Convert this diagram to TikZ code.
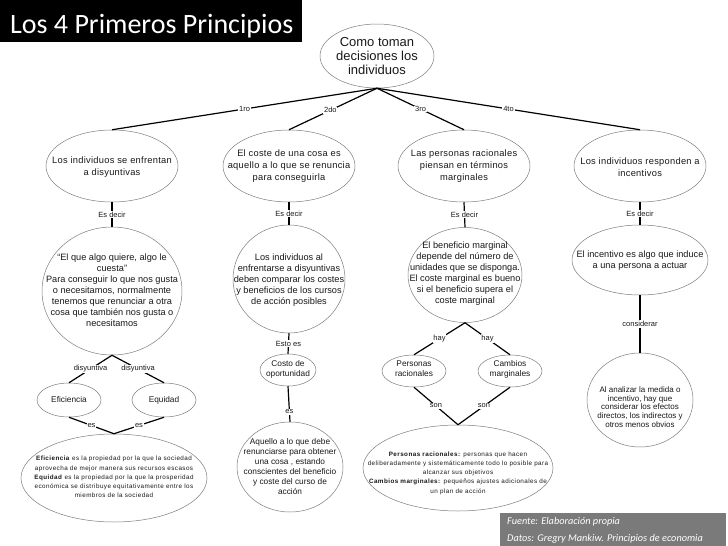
\documentclass[tikz,border=0pt]{standalone}
\usepackage{fontspec}
\setmainfont{Liberation Sans}
\newfontfamily\spaceA[LetterSpace=3]{Liberation Sans}
\newfontfamily\spaceC[LetterSpace=7]{Liberation Sans}
\newfontfamily\carl{Carlito}
\usetikzlibrary{shapes.geometric}
\definecolor{ellgray}{RGB}{125,125,125}
\definecolor{boxgray}{RGB}{122,122,122}
\definecolor{txtcol}{RGB}{25,25,25}
\tikzset{
  ell/.style={ellipse, draw=ellgray, line width=0.5pt, inner sep=0pt},
  esz/.style 2 args={minimum width=#1pt, minimum height=#2pt},
  txt/.style={align=center, inner sep=0pt, text=txtcol},
  fRoot/.style={font=\fontsize{13}{14}\selectfont},
  fA/.style={font=\spaceA\fontsize{9.3}{12}\selectfont},
  fB/.style={font=\fontsize{9.2}{11}\selectfont},
  fS/.style={font=\fontsize{8.3}{10}\selectfont},
  fD/.style={font=\fontsize{8}{8.7}\selectfont},
  fC/.style={font=\spaceC\fontsize{6.3}{9.2}\selectfont},
  conn/.style={line width=1.2pt, black},
  lbl/.style={fill=white, inner sep=0.8pt, text=txtcol, font=\fontsize{7.5}{8}\selectfont},
}
\begin{document}
\begin{tikzpicture}[x=1pt, y=-1pt]
\useasboundingbox (0,0) rectangle (728,546);
\fill[white] (0,0) rectangle (728,546);

% title
\fill[black] (0,0) rectangle (302,42);
\node[anchor=base west, inner sep=0pt, text=white, font=\carl\fontsize{28}{30}\selectfont] (title) at (10,33) {Los 4 Primeros Principios};

% root
\node[ell, esz={114}{64}] (root) at (377,56) {};
\node[txt, fRoot] (roott) at (377,56) {Como toman\\decisiones los\\individuos};

% level 1
\node[ell, esz={132}{72}] (a1) at (112,166) {};
\node[ell, esz={132}{72}] (a2) at (289,166) {};
\node[ell, esz={132}{72}] (a3) at (464,166) {};
\node[ell, esz={132}{72}] (a4) at (640,166) {};
\node[txt, fA] (a1t) at (112,167) {Los individuos se enfrentan\\a disyuntivas};
\node[txt, fA] (a2t) at (289,166) {El coste de una cosa es\\aquello a lo que se renuncia\\para conseguirla};
\node[txt, fA] (a3t) at (464,166) {Las personas racionales\\piensan en términos\\marginales};
\node[txt, fA] (a4t) at (640,167) {Los individuos responden a\\incentivos};

% level 2
\node[ell, esz={140}{128}] (b1) at (112,291) {};
\node[ell, esz={112}{108}] (b2) at (289,279) {};
\node[ell, esz={114}{95}] (b3) at (465,275) {};
\node[ell, esz={136}{70}] (b4) at (640,260) {};
\node[txt, fB] (b1t) at (112,290) {“El que algo quiere, algo le\\cuesta”\\Para conseguir lo que nos gusta\\o necesitamos, normalmente\\tenemos que renunciar a otra\\cosa que también nos gusta o\\necesitamos};
\node[txt, fB] (b2t) at (289,280) {Los individuos al\\enfrentarse a disyuntivas\\deben comparar los costes\\y beneficios de los cursos\\de acción posibles};
\node[txt, fB] (b3t) at (465,274) {El beneficio marginal\\depende del número de\\unidades que se disponga.\\El coste marginal es bueno\\si el beneficio supera el\\coste marginal};
\node[txt, fB] (b4t) at (640,261) {El incentivo es algo que induce\\a una persona a actuar};

% small ellipses
\node[ell, esz={64}{34}] (ef) at (69,400) {};
\node[ell, esz={64}{34}] (eq) at (164,400) {};
\node[ell, esz={56}{32}] (co) at (288,370) {};
\node[ell, esz={64}{32}] (pe) at (414,371) {};
\node[ell, esz={64}{32}] (cm) at (510,371) {};
\node[txt, fS] (eft) at (69,400) {Eficiencia};
\node[txt, fS] (eqt) at (164,400) {Equidad};
\node[txt, fS] (cot) at (288,369) {Costo de\\oportunidad};
\node[txt, fS] (pet) at (414,369) {Personas\\racionales};
\node[txt, fS] (cmt) at (510,369) {Cambios\\marginales};

% bottom ellipses
\node[ell, esz={186}{88}] (c1) at (114,478) {};
\node[ell, esz={106}{90}] (c2) at (290,467) {};
\node[ell, esz={190}{86}] (c3) at (458,468) {};
\node[ell, esz={106}{94}] (d4) at (640,400) {};
\node[txt, fC] (c1t) at (114,477) {\textbf{Eficiencia} es la propiedad por la que la sociedad\\aprovecha de mejor manera sus recursos escasos\\\textbf{Equidad} es la propiedad por la que la prosperidad\\económica se distribuye equitativamente entre los\\miembros de la sociedad};
\node[txt, fS] (c2t) at (290,467) {Aquello a lo que debe\\renunciarse para obtener\\una cosa , estando\\conscientes del beneficio\\y coste del curso de\\acción};
\node[txt, fC] (c3t) at (458,473) {\textbf{Personas racionales:} personas que hacen\\deliberadamente y sistemáticamente todo lo posible para\\alcanzar sus objetivos\\\textbf{Cambios marginales:} pequeños ajustes adicionales de\\un plan de acción};
\node[txt, fD] (d4t) at (640,407) {Al analizar la medida o\\incentivo, hay que\\considerar los efectos\\directos, los indirectos y\\otros menos obvios};

% connectors from root
\draw[conn] (root.south) -- node[lbl] {1ro} (a1.north);
\draw[conn] (root.south) -- node[lbl, pos=0.53] {2do} (a2.north);
\draw[conn] (root.south) -- node[lbl] {3ro} (a3.north);
\draw[conn] (root.south) -- node[lbl] {4to} (a4.north);

% column 1
\draw[conn] (a1.south) -- node[lbl] {Es decir} (b1.north);
\draw[conn] (b1.south) -- node[lbl] {disyuntiva} (ef.north);
\draw[conn] (b1.south) -- node[lbl] {disyuntiva} (eq.north);
\draw[conn] (ef.south) -- node[lbl] {es} (c1.north);
\draw[conn] (eq.south) -- node[lbl] {es} (c1.north);

% column 2
\draw[conn] (a2.south) -- node[lbl] {Es decir} (b2.north);
\draw[conn] (b2.south) -- node[lbl] {Esto es} (co.north);
\draw[conn] (co.south) -- node[lbl, pos=0.72] {es} (c2.north);

% column 3
\draw[conn] (a3.south) -- node[lbl] {Es decir} (b3.north);
\draw[conn] (b3.south) -- node[lbl] {hay} (pe.north);
\draw[conn] (b3.south) -- node[lbl] {hay} (cm.north);
\draw[conn] (pe.south) -- node[lbl] {son} (c3.north);
\draw[conn] (cm.south) -- node[lbl] {son} (c3.north);

% column 4
\draw[conn] (a4.south) -- node[lbl] {Es decir} (b4.north);
\draw[conn] (b4.south) -- node[lbl] {considerar} (d4.north);

% source box
\fill[boxgray] (500,513) rectangle (726,546);
\node[anchor=base west, inner sep=0pt, text=white, font=\carl\itshape\fontsize{10.3}{12}\selectfont] (src1) at (507,524) {Fuente: Elaboración propia};
\node[anchor=base west, inner sep=0pt, text=white, font=\carl\itshape\fontsize{10.3}{12}\selectfont] (src2) at (507,541) {Datos: Gregry Mankiw. Principios de economia};
\end{tikzpicture}
\end{document}
